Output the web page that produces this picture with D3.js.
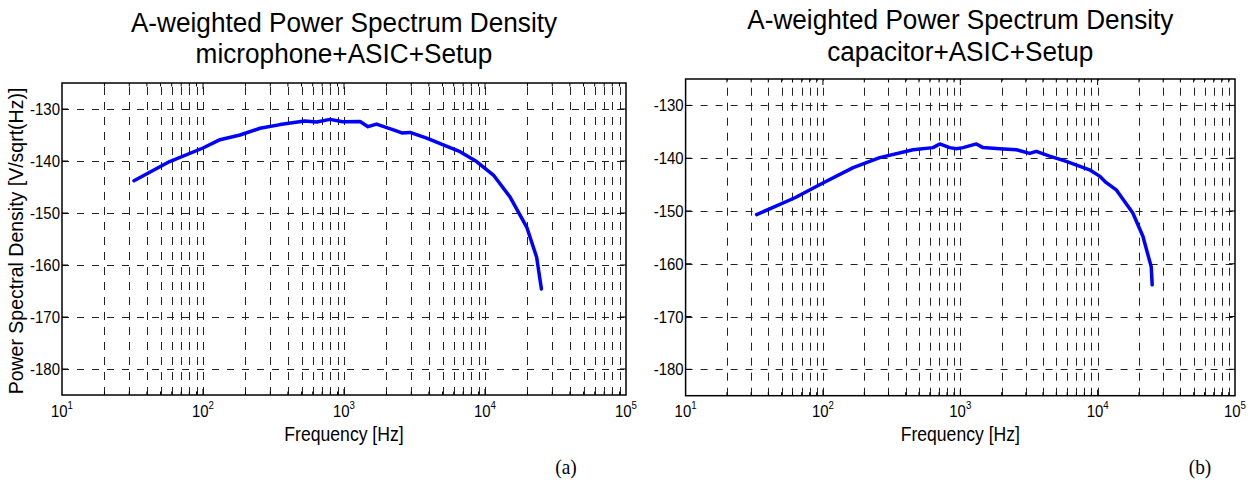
<!DOCTYPE html>
<html>
<head>
<meta charset="utf-8">
<script src="https://cdn.jsdelivr.net/npm/d3@7"></script>
<style>
  body { margin: 0; background: #fff; }
  svg { display: block; }
</style>
</head>
<body>
<div id="chart"></div>
<script>
// values
const freqA = [32.4, 58, 100, 132, 183, 254, 352, 525, 640, 795, 980, 1300, 1480, 1700, 2240, 2570, 2940, 3860, 5060, 6650, 8720, 11470, 15030, 19760, 23240, 25130];
const psdA = [-143.8, -140.1, -137.5, -135.9, -135.0, -133.7, -133.0, -132.3, -132.5, -132.0, -132.45, -132.4, -133.4, -132.9, -134.0, -134.6, -134.5, -135.6, -136.9, -138.2, -140.1, -142.7, -146.9, -152.7, -158.5, -164.6];

const freqB = [32.9, 62.5, 100, 166, 259, 453, 633, 708, 837, 935, 1047, 1310, 1462, 1935, 2560, 3200, 3575, 4470, 5910, 8730, 10320, 11500, 13650, 18030, 21350, 24560, 24950];
const psdB = [-150.7, -147.5, -144.7, -141.8, -139.9, -138.4, -138.0, -137.3, -138.0, -138.2, -138.0, -137.3, -138.0, -138.2, -138.4, -139.1, -138.7, -139.6, -140.6, -142.2, -143.4, -144.6, -146.0, -150.4, -154.8, -160.6, -164.0];

const titlesA = ["A-weighted Power Spectrum Density", "microphone+ASIC+Setup"];
const titlesB = ["A-weighted Power Spectrum Density", "capacitor+ASIC+Setup"];
const yTicks = [-130, -140, -150, -160, -170, -180];
const xDecades = [1, 2, 3, 4, 5];
const Y_DOMAIN = [-185, -125];
const X_DOMAIN = [10, 100000];

const W = 1252, H = 495;
const SX = 0.88;   // the source figure is squeezed horizontally
const FONT = "'Liberation Sans', Arial, Helvetica, sans-serif";

const svg = d3.select("#chart").append("svg")
    .attr("width", W)
    .attr("height", H);

// squeezed text helper
const txt = (g, x, y, s, size, anchor, sx) => g.append("text")
    .attr("transform", `translate(${x},${y}) scale(${sx || SX},1)`)
    .attr("text-anchor", anchor || "middle")
    .style("font-family", FONT)
    .style("font-size", size + "px")
    .style("fill", "#000")
    .text(s);

const panel = (box, freq, psd, titles, tag) => {
    const x = d3.scaleLog().domain(X_DOMAIN).range([box.left, box.right]);
    const y = d3.scaleLinear().domain(Y_DOMAIN).range([box.bottom, box.top]);
    const g = svg.append("g");

    // every log tick 20..90000
    const logTicks = [];
    for (let d = 1; d < 5; d++) {
        for (let m = 1; m <= 9; m++) {
            logTicks.push(m * Math.pow(10, d));
        }
    }
    const inner = logTicks.filter(v => v > X_DOMAIN[0]);

    // grid
    g.selectAll(".vg").data(inner).join("line")
        .attr("x1", d => Math.round(x(d)) + 0.5)
        .attr("x2", d => Math.round(x(d)) + 0.5)
        .attr("y1", box.bottom)
        .attr("y2", box.top)
        .attr("stroke", "#222")
        .attr("stroke-width", 1)
        .attr("stroke-dasharray", "8,7");

    g.selectAll(".hg").data(yTicks).join("line")
        .attr("x1", box.left)
        .attr("x2", box.right)
        .attr("y1", d => Math.round(y(d)) + 0.5)
        .attr("y2", d => Math.round(y(d)) + 0.5)
        .attr("stroke", "#222")
        .attr("stroke-width", 1)
        .attr("stroke-dasharray", "7,8");

    // inside tick marks
    const tickLen = d => (Math.log10(d) % 1 === 0 ? 6 : 3.5);
    [box.bottom, box.top].forEach((yy, i) => {
        g.selectAll(".xt" + i).data(logTicks.slice(1)).join("line")
            .attr("x1", d => x(d))
            .attr("x2", d => x(d))
            .attr("y1", yy)
            .attr("y2", d => i === 0 ? yy - tickLen(d) : yy + tickLen(d))
            .attr("stroke", "#000");
    });
    [box.left, box.right].forEach((xx, i) => {
        g.selectAll(".yt" + i).data(yTicks).join("line")
            .attr("x1", xx)
            .attr("x2", i === 0 ? xx + 6 : xx - 6)
            .attr("y1", d => y(d))
            .attr("y2", d => y(d))
            .attr("stroke", "#000");
    });

    // box
    g.append("rect")
        .attr("x", box.left)
        .attr("y", box.top)
        .attr("width", box.right - box.left)
        .attr("height", box.bottom - box.top)
        .attr("fill", "none")
        .attr("stroke", "#000")
        .attr("stroke-width", 1.5);

    // curve
    const line = d3.line()
        .x(d => x(d[0]))
        .y(d => y(d[1]));
    g.append("path")
        .datum(freq.map((f, i) => [f, psd[i]]))
        .attr("d", line)
        .attr("fill", "none")
        .attr("stroke", "#0000ff")
        .attr("stroke-width", 3.5)
        .attr("stroke-linejoin", "round")
        .attr("stroke-linecap", "round");

    // y tick labels
    yTicks.forEach(v => txt(g, box.left - 2, y(v) + 6, v, 17, "end"));

    // x tick labels 10^n
    xDecades.forEach(n => {
        const t = txt(g, x(Math.pow(10, n)), box.labelY, "", 17);
        t.append("tspan").text("10");
        t.append("tspan").attr("dy", -8).style("font-size", "11px").text(n);
    });

    txt(g, (box.left + box.right) / 2, box.labelY + 24, "Frequency [Hz]", 20);

    txt(g, (box.left + box.right) / 2, box.titleY[0], titles[0], 27, "middle", 0.97);
    txt(g, (box.left + box.right) / 2, box.titleY[1], titles[1], 27, "middle", 0.97);

    g.append("text")
        .attr("transform", `translate(${box.tagX},474) scale(${SX},1)`)
        .attr("text-anchor", "middle")
        .style("font-family", "'Liberation Serif', 'Times New Roman', serif")
        .style("font-size", "22px")
        .text(tag);
};

panel({ left: 62, right: 626, top: 83, bottom: 395, labelY: 417, titleY: [32, 62.5], tagX: 566 },
    freqA, psdA, titlesA, "(a)");
panel({ left: 685.6, right: 1235, top: 79, bottom: 395.7, labelY: 417, titleY: [29, 61], tagX: 1200 },
    freqB, psdB, titlesB, "(b)");

// y axis label, only on the left panel
svg.append("text")
    .attr("transform", "translate(23,241) rotate(-90)")
    .attr("text-anchor", "middle")
    .style("font-family", FONT)
    .style("font-size", "19.5px")
    .text("Power Spectral Density [V/sqrt(Hz)]");
</script>
</body>
</html>
